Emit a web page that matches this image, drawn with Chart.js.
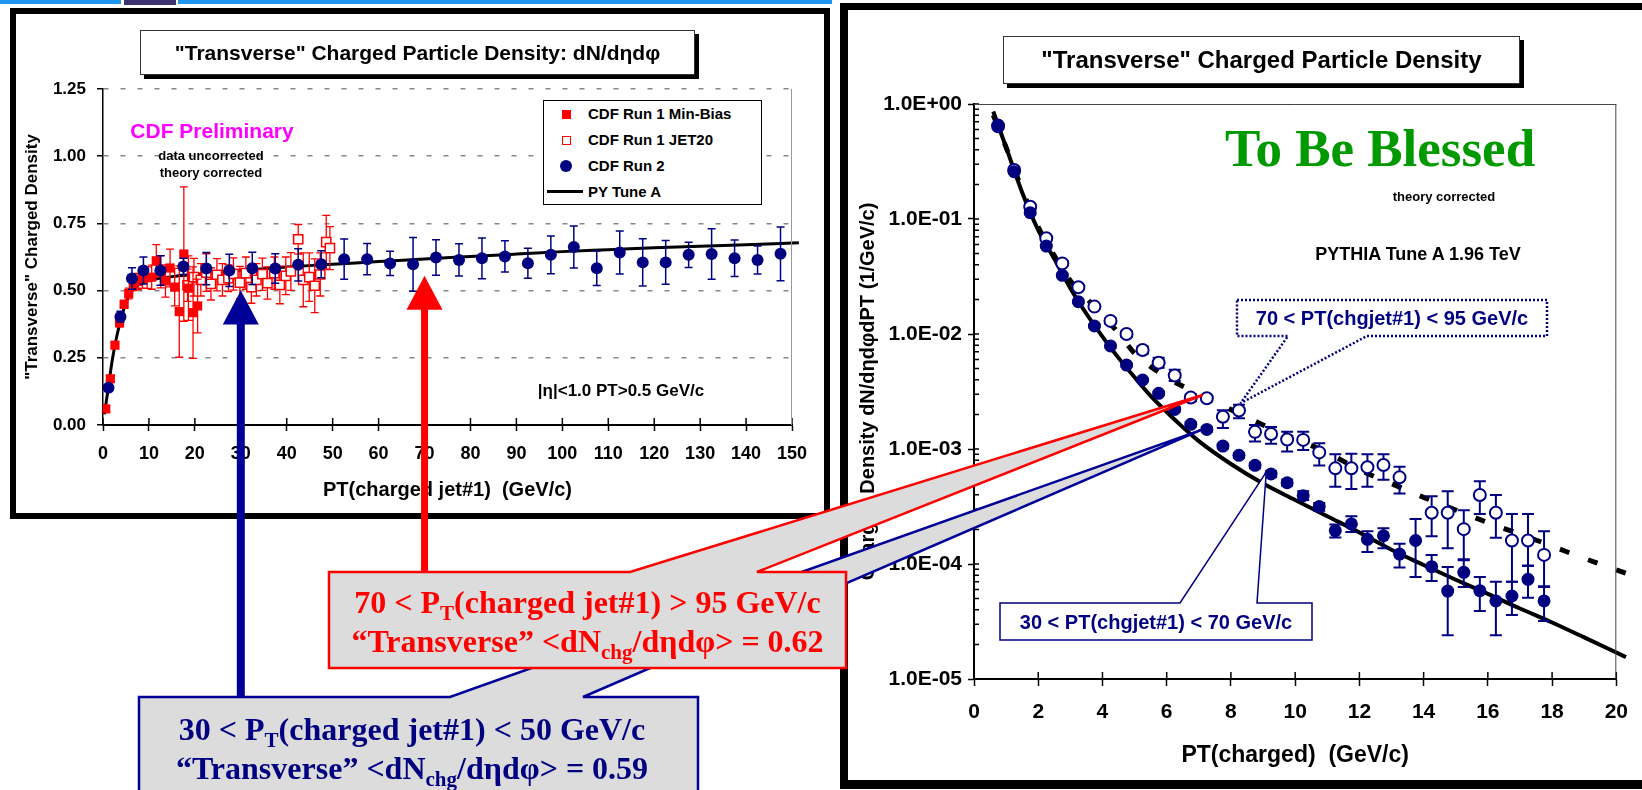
<!DOCTYPE html>
<html>
<head>
<meta charset="utf-8">
<title>Transverse charged particle density</title>
<script src="https://cdn.jsdelivr.net/npm/chart.js@4.4.1/dist/chart.umd.min.js"></script>
<style>
  body { margin:0; width:1642px; height:790px; position:relative; overflow:hidden; background:#fff;
         font-family:"Liberation Sans", Arial, Helvetica, sans-serif; font-weight:bold; color:#000; }
  .abs { position:absolute; }
  .ctr { position:absolute; transform:translate(-50%,-50%); white-space:nowrap; line-height:1; z-index:2; }
  .panel { position:absolute; box-sizing:border-box; border:6px solid #000; }
  .tbox { position:absolute; box-sizing:border-box; border:1px solid #333; background:#fff; z-index:2;
          box-shadow:4px 4px 0 #000; display:flex; align-items:center; justify-content:center; white-space:nowrap; }
  canvas { position:absolute; z-index:1; }
  .serif { font-family:"Liberation Serif","Times New Roman",serif; font-weight:bold; }
  .callout { position:absolute; z-index:4; text-align:center; font-size:32px; line-height:39px; white-space:nowrap; }
  .callout sub { font-size:21px; vertical-align:-7px; line-height:0; }
  #overlay { position:absolute; left:0; top:0; z-index:3; }
  #legend { left:543px; top:100px; width:219px; height:105px; border:1px solid #000; background:#fff;
            box-sizing:border-box; z-index:2; font-size:15px; }
  #legend .t { position:absolute; left:44px; line-height:16px; white-space:nowrap; }
</style>
</head>
<body>
<!-- strip along the top of the slide -->
<div class="abs" style="left:0;top:0;width:121px;height:4px;background:#1e96ee"></div>
<div class="abs" style="left:124px;top:0;width:52px;height:5px;background:#3c3470"></div>
<div class="abs" style="left:178px;top:0;width:654px;height:4px;background:#1e96ee"></div>

<div class="panel" style="left:10px;top:8px;width:820px;height:511px"></div>
<div class="panel" style="left:840px;top:3px;width:900px;height:786px;border-width:7px 8px 9px 8px"></div>

<div class="tbox" style="left:140px;top:30px;width:555px;height:45px;font-size:21px">"Transverse" Charged Particle Density: dN/dηdφ</div>
<div class="tbox" style="left:1003px;top:36px;width:517px;height:48px;font-size:24px">"Transverse" Charged Particle Density</div>

<canvas id="chartL" width="830" height="520" style="left:0;top:0"></canvas>
<canvas id="chartR" width="802" height="790" style="left:840px;top:0"></canvas>

<div id="legend" class="abs">
  <div class="abs" style="left:18px;top:9px;width:9px;height:9px;background:#f00"></div>
  <div class="t" style="top:5px">CDF Run 1 Min-Bias</div>
  <div class="abs" style="left:18px;top:35px;width:9px;height:9px;border:1.5px solid #f00;box-sizing:border-box;background:#fff"></div>
  <div class="t" style="top:31px">CDF Run 1 JET20</div>
  <div class="abs" style="left:16px;top:59px;width:12px;height:12px;border-radius:50%;background:#000080"></div>
  <div class="t" style="top:57px">CDF Run 2</div>
  <div class="abs" style="left:3px;top:89px;width:36px;height:3px;background:#000"></div>
  <div class="t" style="top:83px">PY Tune A</div>
</div>

<div class="ctr" style="left:212px;top:130px;font-size:21px;color:#ff00ff">CDF Preliminary</div>
<div class="ctr" style="left:211px;top:155px;font-size:13px">data uncorrected</div>
<div class="ctr" style="left:211px;top:172px;font-size:13px">theory corrected</div>
<div class="ctr" style="left:621px;top:390px;font-size:17px">|η|&lt;1.0 PT&gt;0.5 GeV/c</div>

<div class="ctr serif" style="left:1380px;top:148px;font-size:53px;color:#009900">To Be Blessed</div>
<div class="ctr" style="left:1444px;top:196px;font-size:13px">theory corrected</div>
<div class="ctr" style="left:1418px;top:254px;font-size:18px">PYTHIA Tune A 1.96 TeV</div>

<svg id="overlay" width="1642" height="790"></svg>

<div class="ctr" style="left:1392px;top:318px;font-size:20px;color:#000080;z-index:4">70 &lt; PT(chgjet#1) &lt; 95 GeV/c</div>
<div class="ctr" style="left:1156px;top:622px;font-size:20px;color:#000080;z-index:4">30 &lt; PT(chgjet#1) &lt; 70 GeV/c</div>

<div class="callout serif" style="left:329px;width:517px;top:583px;color:#ff0000">70 &lt; P<sub>T</sub>(charged jet#1) &gt; 95 GeV/c<br>“Transverse” &lt;dN<sub>chg</sub>/dηdφ&gt; = 0.62</div>
<div class="callout serif" style="left:139px;width:546px;top:710px;color:#000080">30 &lt; P<sub>T</sub>(charged jet#1) &lt; 50 GeV/c<br>“Transverse” &lt;dN<sub>chg</sub>/dηdφ&gt; = 0.59</div>

<script>
// ---- left plot: "transverse" density vs PT(charged jet#1) ----
const run2Pt   = [1.2, 3.8, 6.3, 8.8, 12.5, 17.5, 22.5, 27.5, 32.5, 37.5, 42.5, 47.5, 52.5, 57.5, 62.5, 67.5, 72.5, 77.5, 82.5, 87.5, 92.5, 97.5, 102.5, 107.5, 112.5, 117.5, 122.5, 127.5, 132.5, 137.5, 142.5, 147.5];
const run2Dens = [0.139, 0.403, 0.545, 0.575, 0.575, 0.590, 0.582, 0.575, 0.583, 0.582, 0.596, 0.598, 0.617, 0.617, 0.601, 0.598, 0.623, 0.614, 0.620, 0.627, 0.602, 0.633, 0.662, 0.583, 0.642, 0.605, 0.605, 0.633, 0.636, 0.620, 0.614, 0.637];
const run2Err  = [0.010, 0.020, 0.040, 0.050, 0.055, 0.030, 0.060, 0.060, 0.060, 0.055, 0.060, 0.050, 0.075, 0.058, 0.045, 0.100, 0.066, 0.060, 0.076, 0.058, 0.056, 0.070, 0.078, 0.064, 0.080, 0.088, 0.081, 0.047, 0.094, 0.068, 0.052, 0.100];

const mbPt   = [0.6, 1.6, 2.6, 3.6, 4.6, 5.6, 6.6, 7.6, 8.6, 9.6, 10.6, 11.6, 12.6, 13.6, 14.6, 15.6, 16.6, 17.6, 18.6, 19.6, 20.6];
const mbDens = [0.060, 0.172, 0.297, 0.380, 0.449, 0.489, 0.525, 0.534, 0.544, 0.548, 0.550, 0.611, 0.570, 0.536, 0.584, 0.513, 0.422, 0.636, 0.509, 0.418, 0.443];
const mbErr  = [0.008, 0.010, 0.012, 0.015, 0.015, 0.020, 0.025, 0.030, 0.035, 0.040, 0.045, 0.060, 0.060, 0.060, 0.070, 0.070, 0.170, 0.250, 0.120, 0.170, 0.100];

const j20Pt   = [18.4, 19.8, 21.3, 22.5, 23.5, 24.8, 26.0, 27.3, 28.4, 29.8, 31.1, 32.3, 33.4, 34.7, 35.8, 37.3, 38.5, 39.8, 40.9, 42.5, 43.6, 44.9, 46.1, 47.3, 48.6, 49.4];
const j20Dens = [0.520, 0.550, 0.540, 0.567, 0.525, 0.559, 0.540, 0.546, 0.562, 0.530, 0.565, 0.513, 0.540, 0.561, 0.528, 0.565, 0.521, 0.555, 0.571, 0.691, 0.540, 0.550, 0.518, 0.560, 0.680, 0.658];
const j20Err  = [0.060, 0.070, 0.060, 0.070, 0.060, 0.060, 0.060, 0.050, 0.060, 0.060, 0.060, 0.060, 0.060, 0.060, 0.060, 0.060, 0.070, 0.070, 0.070, 0.055, 0.100, 0.090, 0.100, 0.080, 0.100, 0.080];

const tuneAPt   = [0.3, 1, 2, 3, 4, 5, 6, 7, 8, 10, 12, 15, 20, 30, 40, 50, 60, 70, 80, 90, 100, 110, 120, 130, 140, 151.5];
const tuneADens = [0.04, 0.12, 0.24, 0.33, 0.40, 0.455, 0.49, 0.51, 0.525, 0.538, 0.545, 0.552, 0.56, 0.575, 0.588, 0.598, 0.608, 0.618, 0.627, 0.636, 0.645, 0.652, 0.659, 0.665, 0.671, 0.678];

// ---- right plot: PT(charged) spectrum ----
const ptCh = [0.75, 1.25, 1.75, 2.25, 2.75, 3.25, 3.75, 4.25, 4.75, 5.25, 5.75, 6.25, 6.75, 7.25, 7.75, 8.25, 8.75, 9.25, 9.75, 10.25, 10.75, 11.25, 11.75, 12.25, 12.75, 13.25, 13.75, 14.25, 14.75, 15.25, 15.75, 16.25, 16.75, 17.25, 17.75];
// 30 < PT(chgjet#1) < 70 (filled)
const lowDens = [0.656, 0.258, 0.1135, 0.0582, 0.0324, 0.0191, 0.01174, 0.00787, 0.00537, 0.00398, 0.00305, 0.00221, 0.00164, 0.00148, 0.00106, 0.000881, 0.000721, 0.000606, 0.000509, 0.000393, 0.000316, 0.000195, 0.000223, 0.000164, 0.000176, 0.000122, 0.000160, 0.0000948, 0.0000582, 0.0000847, 0.0000586, 0.0000477, 0.0000527, 0.0000736, 0.0000477];
const lowLo   = [0.640, 0.250, 0.110, 0.0565, 0.0314, 0.0185, 0.0114, 0.0076, 0.0052, 0.00385, 0.00295, 0.00213, 0.00157, 0.00141, 0.00101, 0.00084, 0.00068, 0.00057, 0.00048, 0.00036, 0.00029, 0.00017, 0.00019, 0.000127, 0.000137, 0.000093, 0.000077, 0.000071, 0.000024, 0.000063, 0.000039, 0.000024, 0.000036, 0.000051, 0.000032];
const lowHi   = [0.672, 0.266, 0.117, 0.060, 0.0334, 0.0197, 0.0121, 0.0081, 0.0055, 0.0041, 0.00315, 0.00229, 0.00171, 0.00155, 0.00111, 0.00092, 0.00076, 0.00064, 0.00054, 0.00043, 0.00034, 0.00022, 0.00026, 0.000193, 0.000205, 0.00015, 0.000246, 0.00012, 0.000094, 0.00011, 0.000077, 0.00007, 0.00007, 0.000096, 0.000064];
// 70 < PT(chgjet#1) < 95 (open)
const highDens = [0.640, 0.267, 0.128, 0.068, 0.0411, 0.0255, 0.0173, 0.0130, 0.0100, 0.00726, 0.00563, 0.00435, 0.00280, 0.00276, 0.00191, 0.00216, 0.00141, 0.00135, 0.00121, 0.00120, 0.000934, 0.000679, 0.000680, 0.000695, 0.000726, 0.000567, null, 0.000279, 0.000279, 0.000201, 0.000398, 0.000279, 0.000160, 0.000160, 0.000120];
const highLo   = [0.615, 0.258, 0.123, 0.0655, 0.0395, 0.0244, 0.0165, 0.0123, 0.0094, 0.0067, 0.0051, 0.0039, 0.0026, 0.0026, 0.00152, 0.00185, 0.00116, 0.00111, 0.00095, 0.00098, 0.00072, 0.00047, 0.00045, 0.00047, 0.00054, 0.00041, null, 0.000174, 0.000137, 0.000108, 0.000272, 0.000169, 0.000070, 0.000097, 0.000063];
const highHi   = [0.665, 0.276, 0.133, 0.0705, 0.0428, 0.0266, 0.0181, 0.0137, 0.0106, 0.0078, 0.0062, 0.0049, 0.0030, 0.0029, 0.00217, 0.00242, 0.00162, 0.00155, 0.00141, 0.00141, 0.00112, 0.00090, 0.00091, 0.00090, 0.00090, 0.00070, null, 0.000388, 0.00043, 0.000294, 0.000525, 0.000398, 0.000272, 0.000272, 0.000193];

const pyLowPt   = [0.6, 1, 1.5, 2, 2.5, 3, 3.5, 4, 4.5, 5, 5.5, 6, 6.5, 7, 8, 9, 10, 11, 12, 13, 14, 15, 16, 17, 18, 19, 20.3];
const pyLowDens = [0.86, 0.42, 0.17, 0.08, 0.045, 0.025, 0.015, 0.0095, 0.0062, 0.0042, 0.0029, 0.0021, 0.00155, 0.00117, 0.00074, 0.0005, 0.00036, 0.00026, 0.000188, 0.000133, 0.000098, 0.000073, 0.000055, 0.000041, 0.000031, 0.000023, 0.0000155];
const pyHighPt   = [0.6, 1, 1.5, 2, 2.5, 3, 3.5, 4, 4.5, 5, 6, 7, 8, 9, 10, 11, 12, 13, 14, 15, 16, 17, 18, 19, 20.3];
const pyHighDens = [0.8, 0.42, 0.18, 0.085, 0.048, 0.029, 0.0205, 0.0145, 0.0102, 0.0068, 0.0042, 0.003, 0.0022, 0.00162, 0.00123, 0.00093, 0.00066, 0.0005, 0.00038, 0.000295, 0.000229, 0.000182, 0.000143, 0.000112, 0.000083];

// where the callout pointers land, in data units of the right plot
const tipRed = [7.12, 0.00295], tipBlue = [7.06, 0.00146], tipHiBox = [8.3, 0.0025], tipLoBox = [9.1, 0.00063];

const NAVY = '#000080';
const pts = (xs, ys) => xs.map((x, i) => ({x: x, y: ys[i]}));
const minus = (ys, es) => ys.map((y, i) => y - es[i]);
const plus = (ys, es) => ys.map((y, i) => y + es[i]);
const isDecade = v => v > 0 && Math.abs(Math.log10(v) - Math.round(Math.log10(v))) < 1e-6;
const sci = v => { const e = Math.round(Math.log10(v)); return '1.0E' + (e < 0 ? '-' : '+') + String(Math.abs(e)).padStart(2, '0'); };

Chart.defaults.font.family = '"Liberation Sans", Arial, sans-serif';
Chart.defaults.font.weight = 'bold';
Chart.defaults.color = '#000';

// vertical error bars, drawn just under each dataset's markers
const errorBars = {
  id: 'errorBars',
  beforeDatasetDraw(chart, args) {
    const ds = chart.data.datasets[args.index];
    if (!ds.errLo) return;
    const {ctx, scales: {x, y}} = chart;
    ctx.save();
    ctx.strokeStyle = ds.errColor;
    ctx.lineWidth = ds.errWidth;
    ctx.beginPath();
    ds.data.forEach((p, i) => {
      if (p.y == null || ds.errLo[i] == null) return;
      const px = x.getPixelForValue(p.x);
      const y1 = y.getPixelForValue(ds.errLo[i]), y2 = y.getPixelForValue(ds.errHi[i]);
      const c = ds.capWidth / 2;
      ctx.moveTo(px, y1); ctx.lineTo(px, y2);
      ctx.moveTo(px - c, y1); ctx.lineTo(px + c, y1);
      ctx.moveTo(px - c, y2); ctx.lineTo(px + c, y2);
    });
    ctx.stroke();
    ctx.restore();
  }
};

// tick marks pointing into the plot, and the thin frame lines
const frame = {
  id: 'frame',
  afterDraw(chart, args, opts) {
    const {ctx, chartArea: a, scales: {x, y}} = chart;
    ctx.save();
    ctx.strokeStyle = '#000';
    ctx.lineWidth = 1.5;
    ctx.beginPath();
    if (opts.xIn) x.ticks.forEach(t => {
      const px = x.getPixelForValue(t.value);
      ctx.moveTo(px, a.bottom); ctx.lineTo(px, a.bottom - opts.xIn);
    });
    if (opts.yIn) y.ticks.forEach(t => {
      const m = t.value / Math.pow(10, Math.floor(Math.log10(t.value) + 1e-9));
      if (Math.abs(m - Math.round(m)) > 1e-6) return;
      const py = y.getPixelForValue(t.value);
      ctx.moveTo(a.left, py); ctx.lineTo(a.left + opts.yIn, py);
    });
    ctx.stroke();
    ctx.strokeStyle = opts.color;
    ctx.lineWidth = 1;
    ctx.beginPath();
    if (opts.top) { ctx.moveTo(a.left, a.top + 0.5); ctx.lineTo(a.right, a.top + 0.5); }
    ctx.moveTo(a.right - 0.5, a.top); ctx.lineTo(a.right - 0.5, a.bottom);
    ctx.stroke();
    ctx.restore();
  }
};

const chartL = new Chart(document.getElementById('chartL'), {
  type: 'scatter',
  data: {
    datasets: [
      { label: 'CDF Run 2', data: pts(run2Pt, run2Dens), pointStyle: 'circle', pointRadius: 6,
        backgroundColor: NAVY, borderColor: NAVY, borderWidth: 0,
        errLo: minus(run2Dens, run2Err), errHi: plus(run2Dens, run2Err), errColor: NAVY, errWidth: 1.5, capWidth: 8 },
      { label: 'CDF Run 1 Min-Bias', data: pts(mbPt, mbDens), pointStyle: 'rect', pointRadius: 6.5,
        backgroundColor: '#ff0000', borderColor: '#ff0000', borderWidth: 0,
        errLo: minus(mbDens, mbErr), errHi: plus(mbDens, mbErr), errColor: '#ff0000', errWidth: 1.3, capWidth: 8 },
      { label: 'CDF Run 1 JET20', data: pts(j20Pt, j20Dens), pointStyle: 'rect', pointRadius: 6.5,
        backgroundColor: '#ffffff', borderColor: '#ff0000', borderWidth: 1.5,
        errLo: minus(j20Dens, j20Err), errHi: plus(j20Dens, j20Err), errColor: '#ff0000', errWidth: 1.3, capWidth: 8 },
      { label: 'PY Tune A', data: pts(tuneAPt, tuneADens), showLine: true, pointRadius: 0,
        borderColor: '#000', borderWidth: 3, cubicInterpolationMode: 'monotone', clip: false }
    ]
  },
  options: {
    responsive: false, animation: false, devicePixelRatio: 1, events: [],
    layout: { padding: { left: 13, right: 38, top: 89, bottom: 15 } },
    plugins: { legend: { display: false }, tooltip: { enabled: false },
               frame: { xIn: 7, yIn: 0, top: false, color: '#999' } },
    scales: {
      x: {
        min: 0, max: 150,
        ticks: { stepSize: 10, padding: 12, font: { size: 18 }, maxRotation: 0, autoSkip: false },
        grid: { drawOnChartArea: false, tickLength: 6, tickWidth: 1.5, tickColor: '#000' },
        border: { color: '#000', width: 2 },
        title: { display: true, text: 'PT(charged jet#1)  (GeV/c)', font: { size: 20 }, padding: { top: 0, bottom: 3 } },
        afterFit: s => { s.height = 80; }
      },
      y: {
        min: 0, max: 1.25,
        ticks: { stepSize: 0.25, padding: 11, font: { size: 17 }, callback: v => v.toFixed(2) },
        grid: { color: '#888', lineWidth: 1.5, tickLength: 6, tickWidth: 1.5, tickColor: '#000' },
        border: { color: '#000', width: 1.5, dash: [5, 12] },
        title: { display: true, text: '"Transverse" Charged Density', font: { size: 17 }, padding: { top: 9, bottom: 0 } },
        afterFit: s => { s.width = 90; }
      }
    }
  },
  plugins: [errorBars, frame]
});

const chartR = new Chart(document.getElementById('chartR'), {
  type: 'scatter',
  data: {
    datasets: [
      { label: '30 < PT(chgjet#1) < 70 GeV/c', data: pts(ptCh, lowDens), pointStyle: 'circle', pointRadius: 6.5,
        backgroundColor: NAVY, borderColor: NAVY, borderWidth: 0,
        errLo: lowLo, errHi: lowHi, errColor: NAVY, errWidth: 2, capWidth: 12 },
      { label: '70 < PT(chgjet#1) < 95 GeV/c', data: pts(ptCh, highDens), pointStyle: 'circle', pointRadius: 6,
        backgroundColor: '#ffffff', borderColor: NAVY, borderWidth: 2,
        errLo: highLo, errHi: highHi, errColor: NAVY, errWidth: 2, capWidth: 12 },
      { label: 'PYTHIA 30-70', data: pts(pyLowPt, pyLowDens), showLine: true, pointRadius: 0,
        borderColor: '#000', borderWidth: 4, cubicInterpolationMode: 'monotone', clip: false },
      { label: 'PYTHIA 70-95', data: pts(pyHighPt, pyHighDens), showLine: true, pointRadius: 0,
        borderColor: '#000', borderWidth: 5, borderDash: [10, 20], cubicInterpolationMode: 'monotone', clip: false }
    ]
  },
  options: {
    responsive: false, animation: false, devicePixelRatio: 1, events: [],
    layout: { padding: { left: 14, right: 22, top: 104, bottom: 11 } },
    plugins: { legend: { display: false }, tooltip: { enabled: false },
               frame: { xIn: 7, yIn: 5, top: true, color: '#444' } },
    scales: {
      x: {
        min: 0, max: 20,
        ticks: { stepSize: 2, padding: 14, font: { size: 21 }, maxRotation: 0, autoSkip: false },
        grid: { drawOnChartArea: false, tickLength: 7, tickWidth: 1.5, tickColor: '#000' },
        border: { color: '#000', width: 2 },
        title: { display: true, text: 'PT(charged)  (GeV/c)', font: { size: 23 }, padding: { top: 0, bottom: 10 } },
        afterFit: s => { s.height = 100; }
      },
      y: {
        type: 'logarithmic', min: 1e-5, max: 1,
        ticks: { autoSkip: false, padding: 6, font: { size: 21 }, callback: v => isDecade(v) ? sci(v) : '' },
        grid: { drawOnChartArea: false, tickLength: 6, tickWidth: 1.5,
                tickColor: c => (c.tick && isDecade(c.tick.value)) ? '#000' : 'rgba(0,0,0,0)' },
        border: { color: '#000', width: 2 },
        title: { display: true, text: 'Charged Density dN/dηdφdPT (1/GeV/c)', font: { size: 20 }, padding: { top: 2, bottom: 0 } },
        afterFit: s => { s.width = 120; }
      }
    }
  },
  plugins: [errorBars, frame]
});

// ---- arrows and callouts on top of both panels ----
const svg = document.getElementById('overlay');
function el(tag, attrs) {
  const e = document.createElementNS('http://www.w3.org/2000/svg', tag);
  for (const k in attrs) e.setAttribute(k, attrs[k]);
  svg.appendChild(e);
  return e;
}
const Lx = v => chartL.scales.x.getPixelForValue(v);
const Ly = v => chartL.scales.y.getPixelForValue(v);
const Rpt = p => [840 + chartR.scales.x.getPixelForValue(p[0]), chartR.scales.y.getPixelForValue(p[1])];

function callout(box, base, tip, stroke, fill, width, dash, tailOnTop) {
  const [tx, ty] = tip;
  let d;
  if (tailOnTop) {
    d = `M${box[0]},${box[1]} H${base[0]} L${tx},${ty} L${base[1]},${box[1]} H${box[2]} V${box[3]} H${box[0]} Z`;
  } else {
    d = `M${box[0]},${box[1]} H${box[2]} V${box[3]} H${base[1]} L${tx},${ty} L${base[0]},${box[3]} H${box[0]} Z`;
  }
  const a = { d: d, fill: fill, stroke: stroke, 'stroke-width': width, 'stroke-linejoin': 'miter' };
  if (dash) a['stroke-dasharray'] = dash;
  el('path', a);
}

callout([139, 697, 698, 805], [450, 583], Rpt(tipBlue), '#000099', '#dcdcdc', 2.5, null, true);
callout([329, 572, 846, 668], [630, 757], Rpt(tipRed), '#ff0000', '#dcdcdc', 2.5, null, true);
callout([1237, 300, 1547, 336], [1288, 1367], Rpt(tipHiBox), NAVY, '#ffffff', 2.5, '2 2', false);
callout([1000, 603, 1312, 640], [1180, 1257], Rpt(tipLoBox), NAVY, '#ffffff', 1.5, null, true);

function arrow(at, tipVal, bottom, color, shaft) {
  const x = Lx(at), tip = Ly(tipVal);
  el('rect', { x: x - shaft / 2, y: tip + 30, width: shaft, height: bottom - tip - 30, fill: color });
  el('polygon', { points: `${x},${tip} ${x - 18},${tip + 34} ${x + 18},${tip + 34}`, fill: color });
}
arrow(30, 0.50, 697, '#000099', 8);
arrow(70, 0.555, 572, '#ff0000', 7);
</script>
</body>
</html>
